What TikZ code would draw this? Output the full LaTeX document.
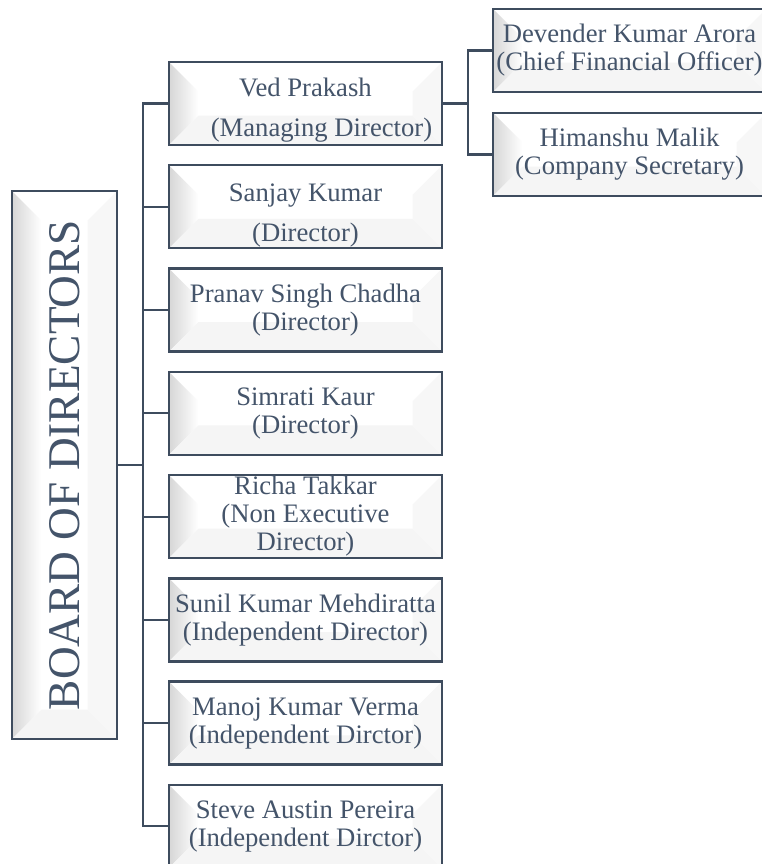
\documentclass[tikz,border=0pt]{standalone}
\usepackage{fontspec}
\setmainfont{Liberation Serif}
\usepackage{graphicx}
\usetikzlibrary{positioning}
\definecolor{slate}{HTML}{44546A}
\definecolor{edge}{HTML}{3E4C5E}
\newcommand\bevdepth{22pt}
\tikzset{%
    bevel/.style={
    path picture={
        \coordinate (bv-nw) at (path picture bounding box.north west);
        \coordinate (bv-sw) at (path picture bounding box.south west);
        \coordinate (bv-se) at (path picture bounding box.south east);
        \coordinate (bv-ne) at (path picture bounding box.north east);
        \fill[left color=black!16, right color=white]
            (bv-nw) -- ++(\bevdepth,-\bevdepth) -- ([shift={(\bevdepth,\bevdepth)}]bv-sw) -- (bv-sw) -- cycle;
        \fill[black!4]
            (bv-sw) -- ([shift={(\bevdepth,\bevdepth)}]bv-sw) -- ([shift={(-\bevdepth,\bevdepth)}]bv-se) -- (bv-se) -- cycle;
        \fill[black!3]
            (bv-se) -- ([shift={(-\bevdepth,\bevdepth)}]bv-se) -- ([shift={(-\bevdepth,-\bevdepth)}]bv-ne) -- (bv-ne) -- cycle;
        },
    },
}
\tikzstyle{member} = [rectangle, draw=edge, line width=1.8pt, fill=white, bevel, text=slate, align=center, minimum width=204.75pt, minimum height=62.25pt, inner sep=1pt, outer sep=0pt, font=\fontsize{20}{21}\selectfont]
\tikzstyle{officer} = [member, execute at begin node={\rule{0pt}{19pt}}]
\tikzstyle{chair} = [member, minimum width=78.75pt, minimum height=411pt, font=\fontsize{34}{36}\selectfont]
\tikzstyle{link} = [draw=edge, line width=1.6pt]

\begin{document}
\begin{tikzpicture}[x=0.75pt, y=-0.75pt, node distance=15.2pt]
    \useasboundingbox[fill=white] (0,0) rectangle (762,864);

    \node (board) [chair] at (64.5,465) {\rotatebox{90}{BOARD OF DIRECTORS}};

    \node (dir0) [member] at (305.5,103.5) {\rule{0pt}{24pt}Ved Prakash\\[9pt]\hspace*{1.2em}(Managing Director)};
    \node (dir1) [member, inner ysep=0pt, below=of dir0] {\rule{0pt}{27pt}Sanjay Kumar\\[9pt](Director)};
    \node (dir2) [member, below=of dir1] {Pranav Singh Chadha\\(Director)};
    \node (dir3) [member, below=of dir2] {Simrati Kaur\\(Director)};
    \node (dir4) [member, below=of dir3] {Richa Takkar\\(Non Executive\\Director)};
    \node (dir5) [member, below=of dir4] {Sunil Kumar Mehdiratta\\(Independent Director)};
    \node (dir6) [member, below=of dir5] {Manoj Kumar Verma\\(Independent Dirctor)};
    \node (dir7) [member, below=of dir6] {Steve Austin Pereira\\(Independent Dirctor)};

    \node (off0) [officer] at (629.5,50.5) {Devender Kumar Arora\\(Chief Financial Officer)};
    \node (off1) [officer, below=15.75pt of off0] {Himanshu Malik\\(Company Secretary)};

    \draw [link] (board.east) -- ++(19.5pt,0) |- (dir0.west);
    \draw [link] (board.east) -- ++(19.5pt,0) |- (dir1.west);
    \draw [link] (board.east) -- ++(19.5pt,0) |- (dir2.west);
    \draw [link] (board.east) -- ++(19.5pt,0) |- (dir3.west);
    \draw [link] (board.east) -- ++(19.5pt,0) |- (dir4.west);
    \draw [link] (board.east) -- ++(19.5pt,0) |- (dir5.west);
    \draw [link] (board.east) -- ++(19.5pt,0) |- (dir6.west);
    \draw [link] (board.east) -- ++(19.5pt,0) |- (dir7.west);

    \draw [link] (dir0.east) -- ++(19.5pt,0) |- (off0.west);
    \draw [link] (dir0.east) -- ++(19.5pt,0) |- (off1.west);
\end{tikzpicture}
\end{document}
